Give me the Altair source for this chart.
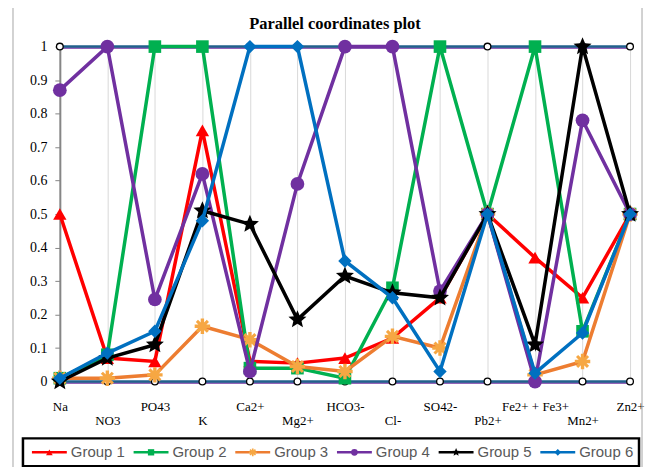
import json
import math
import altair as alt
import pandas as pd

# ---------------- data ----------------
categories = ["Na", "NO3", "PO43", "K", "Ca2+", "Mg2+", "HCO3-", "Cl-",
              "SO42-", "Pb2+", "Fe2+ + Fe3+", "Mn2+", "Zn2+"]
groups = ["Group 1", "Group 2", "Group 3", "Group 4", "Group 5", "Group 6"]

group1 = [0.50, 0.07, 0.06, 0.75, 0.06, 0.055, 0.07, 0.13, 0.25, 0.50, 0.37, 0.25, 0.50]
group2 = [0.01, 0.08, 1.00, 1.00, 0.04, 0.04, 0.01, 0.28, 1.00, 0.50, 1.00, 0.15, 0.50]
group3 = [0.01, 0.01, 0.02, 0.165, 0.125, 0.045, 0.03, 0.135, 0.10, 0.50, 0.02, 0.06, 0.50]
group4 = [0.87, 1.00, 0.245, 0.62, 0.03, 0.59, 1.00, 1.00, 0.27, 0.50, 0.00, 0.78, 0.50]
group5 = [0.00, 0.07, 0.11, 0.51, 0.47, 0.185, 0.315, 0.265, 0.25, 0.50, 0.11, 1.00, 0.50]
group6 = [0.01, 0.085, 0.15, 0.48, 1.00, 1.00, 0.36, 0.25, 0.03, 0.50, 0.025, 0.145, 0.50]
series = [group1, group2, group3, group4, group5, group6]

axis_min = [0.0] * len(categories)
axis_max = [1.0] * len(categories)
title_text = "Parallel coordinates plot"

# ---------------- styles ----------------
line_colors = ["#FF0000", "#00B050", "#ED7D31", "#7030A0", "#000000", "#0070C0"]
marker_colors = ["#FF0000", "#00B050", "#F6A743", "#7030A0", "#000000", "#0070C0"]
asterisk = ("M-1,-0.22L1,-0.22L1,0.22L-1,0.22Z"
            "M-0.22,-1L0.22,-1L0.22,1L-0.22,1Z"
            "M-0.85,-0.57L-0.57,-0.85L0.85,0.57L0.57,0.85Z"
            "M-0.57,0.85L-0.85,0.57L0.57,-0.85L0.85,-0.57Z")
pts = []
for k in range(10):
    r = 1.0 if k % 2 == 0 else 0.45
    a = math.radians(-90 + 36 * k)
    pts.append(f"{r * math.cos(a):.3f},{r * math.sin(a):.3f}")
star = "M" + "L".join(pts) + "Z"
shapes = ["triangle-up", "square", asterisk, "circle", star, "diamond"]
sizes = [180, 160, 240, 190, 360, 180]
legend_sizes = [45, 40, 60, 45, 75, 45]

rows = []
for g, vals in zip(groups, series):
    for i, (c, v) in enumerate(zip(categories, vals)):
        rows.append({"group": g, "cat": c, "idx": i, "v": v})
df = pd.DataFrame(rows)

mm_rows = []
for name, vals in (("min", axis_min), ("max", axis_max)):
    for i, (c, v) in enumerate(zip(categories, vals)):
        mm_rows.append({"series": name, "cat": c, "idx": i, "v": v})
mm = pd.DataFrame(mm_rows)

cats_js = json.dumps(categories)
label_expr = f"indexof({cats_js}, datum.value) % 2 == 1 ? ['', datum.value] : datum.value"

X = alt.X("cat:N", sort=categories, title=None,
          scale=alt.Scale(type="point", padding=0),
          axis=alt.Axis(grid=True, gridColor="#D9D9D9", gridWidth=1, domain=False,
                        ticks=False, labelAngle=0, labelFont="Liberation Serif",
                        labelFontSize=13, labelColor="black", labelPadding=19,
                        labelLineHeight=14, labelOverlap=False, labelFlush=False,
                        labelExpr=label_expr))
Y = alt.Y("v:Q", title=None, scale=alt.Scale(domain=[0, 1]),
          axis=alt.Axis(values=[round(i * 0.1, 1) for i in range(11)], format=".1~f",
                        labelFont="Liberation Serif", labelFontSize=14, labelColor="black",
                        domainColor="#868686", domainWidth=2, tickColor="#868686",
                        tickSize=5, labelPadding=8, grid=False))
O = alt.Order("idx:Q")

one = pd.DataFrame({"title": [title_text]})
border = alt.Chart(one).mark_rect(filled=False, stroke="#A6A6A6", strokeWidth=1).encode(
    x=alt.value(-47), x2=alt.value(584), y=alt.value(-40), y2=alt.value(445))
title = alt.Chart(one).mark_text(font="Liberation Serif", fontSize=16.5, fontWeight="bold",
                                 color="black", align="center", baseline="middle").encode(
    x=alt.value(276), y=alt.value(-23), text="title:N")

mm_under = alt.Chart(mm).mark_line(color="#7030A0", strokeWidth=1.5, yOffset=1.5).encode(
    x=X, y=Y, detail="series:N", order=O)
mm_line = alt.Chart(mm).mark_line(color="#21618C", strokeWidth=2.5).encode(
    x=X, y=Y, detail="series:N", order=O)
mm_pts = alt.Chart(mm).mark_point(shape="circle", size=45, fill="white", stroke="black",
                                  strokeWidth=1.3, opacity=1).encode(x=X, y=Y)

layers = [border, title, mm_under, mm_line, mm_pts]
for i, g in enumerate(groups):
    sub = alt.Chart(df).transform_filter(alt.datum.group == g)
    layers.append(sub.mark_line(color=line_colors[i], strokeWidth=3.5).encode(
        x=X, y=Y, order=O))
    layers.append(sub.mark_point(shape=shapes[i], size=sizes[i], filled=True,
                                 color=marker_colors[i], opacity=1,
                                 strokeWidth=0).encode(x=X, y=Y))

# ---------------- legend (Excel-style boxed legend under the plot) ----------------
layers.append(alt.Chart(one).mark_rect(fill="white", stroke="black", strokeWidth=2.5).encode(
    x=alt.value(-37), x2=alt.value(581), y=alt.value(393), y2=alt.value(421)))
for i, g in enumerate(groups):
    x0 = -28 + 102 * i
    item = alt.Chart(pd.DataFrame({"group": [g]}))
    layers.append(item.mark_rule(color=line_colors[i], strokeWidth=2.5).encode(
        x=alt.value(x0), x2=alt.value(x0 + 35), y=alt.value(407)))
    layers.append(item.mark_point(shape=shapes[i], size=legend_sizes[i], filled=True,
                                  color=marker_colors[i], opacity=1, strokeWidth=0).encode(
        x=alt.value(x0 + 17.5), y=alt.value(407)))
    layers.append(item.mark_text(align="left", baseline="middle", font="Liberation Sans",
                                 fontSize=15, color="#595959").encode(
        x=alt.value(x0 + 39), y=alt.value(407), text="group:N"))

chart = alt.layer(*layers).properties(
    width=572, height=336,
    autosize=alt.AutoSizeParams(type="none"),
    padding={"left": 52, "top": 38, "right": 17, "bottom": 85},
    background="white",
).configure_view(stroke=None)

chart.save("out.html", embed_options={"renderer": "svg", "actions": False})
